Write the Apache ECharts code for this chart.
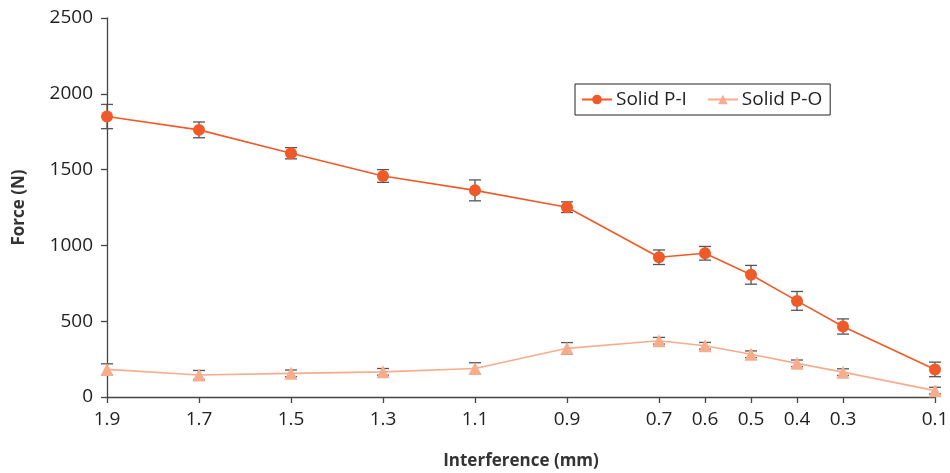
<!DOCTYPE html>
<html>
<head>
<meta charset="utf-8">
<script src="https://cdn.jsdelivr.net/npm/echarts@6/dist/echarts.min.js"></script>
<style>html,body{margin:0;padding:0;background:#fff}#c{width:950px;height:473px}</style>
</head>
<body>
<div id="c"></div>
<script>
var interference = [1.9, 1.7, 1.5, 1.3, 1.1, 0.9, 0.7, 0.6, 0.5, 0.4, 0.3, 0.1];
var solidPI = [1850, 1762, 1608, 1458, 1363, 1252, 922, 948, 806, 634, 465, 182];
var solidPIErr = [80, 52, 37, 42, 69, 35, 48, 45, 62, 62, 50, 48];
var solidPO = [182, 145, 156, 166, 188, 321, 371, 338, 282, 222, 164, 42];
var solidPOErr = [37, 30, 22, 22, 38, 38, 22, 22, 22, 22, 22, 22];
var yTicks = [0, 500, 1000, 1500, 2000, 2500];

var FONT = '"Open Sans", "Noto Sans", sans-serif';

function pairs(xs, ys) { return xs.map(function (x, i) { return [x, ys[i]]; }); }
function errData(xs, ys, es) { return xs.map(function (x, i) { return [x, ys[i] - es[i], ys[i] + es[i]]; }); }

function errRender(params, api) {
  var x = api.value(0);
  var lo = api.coord([x, api.value(1)]);
  var hi = api.coord([x, api.value(2)]);
  var w = 6;
  var st = { stroke: '#555555', lineWidth: 1.3 };
  return {
    type: 'group',
    children: [
      { type: 'line', shape: { x1: lo[0], y1: lo[1], x2: hi[0], y2: hi[1] }, style: st },
      { type: 'line', shape: { x1: lo[0] - w, y1: lo[1], x2: lo[0] + w, y2: lo[1] }, style: st },
      { type: 'line', shape: { x1: hi[0] - w, y1: hi[1], x2: hi[0] + w, y2: hi[1] }, style: st }
    ]
  };
}

var chart = echarts.init(document.getElementById('c'), null, { renderer: 'canvas' });
chart.setOption({
  animation: false,
  backgroundColor: '#fff',
  textStyle: { fontFamily: FONT },
  grid: { left: 107, right: 15, top: 18, bottom: 76, containLabel: false, outerBoundsMode: 'none' },
  legend: {
    data: ['Solid P-I', 'Solid P-O'],
    left: 575, top: 84,
    padding: [6, 8, 6, 6],
    itemGap: 20,
    itemWidth: 30, itemHeight: 12,
    borderColor: '#222', borderWidth: 1, borderRadius: 0,
    textStyle: { fontFamily: FONT, fontSize: 19, color: '#222', padding: [0, 0, 0, -1] }
  },
  xAxis: {
    type: 'value',
    inverse: true,
    min: 0.1, max: 1.9,
    name: 'Interference (mm)',
    nameLocation: 'middle',
    nameGap: 56,
    nameTextStyle: { fontFamily: FONT, fontSize: 17, fontWeight: 'bold', color: '#333' },
    axisLine: { show: true, onZero: false, lineStyle: { color: '#444', width: 1.3 } },
    axisTick: { show: true, length: 6, lineStyle: { color: '#444', width: 1.3 }, customValues: interference },
    axisLabel: {
      customValues: interference,
      fontFamily: FONT, fontSize: 19, color: '#222', margin: 13,
      formatter: function (v) { return Number(v).toFixed(1); }
    },
    splitLine: { show: false }
  },
  yAxis: {
    type: 'value',
    min: 0, max: 2500, interval: 500,
    name: 'Force (N)',
    nameLocation: 'middle',
    nameGap: 79,
    nameRotate: 90,
    nameTextStyle: { fontFamily: FONT, fontSize: 17, fontWeight: 'bold', color: '#333' },
    axisLine: { show: true, lineStyle: { color: '#444', width: 1.3 } },
    axisTick: { show: true, length: 6, lineStyle: { color: '#444', width: 1.3 } },
    axisLabel: {
      customValues: yTicks,
      fontFamily: FONT, fontSize: 19, color: '#222', margin: 14,
      formatter: function (v) { return String(v); }
    },
    splitLine: { show: false }
  },
  series: [
    {
      type: 'custom', name: 'errPI', renderItem: errRender,
      data: errData(interference, solidPI, solidPIErr), z: 1, silent: true,
      encode: { x: 0, y: [1, 2] }
    },
    {
      type: 'custom', name: 'errPO', renderItem: errRender,
      data: errData(interference, solidPO, solidPOErr), z: 1, silent: true,
      encode: { x: 0, y: [1, 2] }
    },
    {
      name: 'Solid P-I', type: 'line', data: pairs(interference, solidPI), z: 3,
      symbol: 'circle', symbolSize: 12,
      lineStyle: { color: '#F05A28', width: 1.6 },
      itemStyle: { color: '#F05A28' }
    },
    {
      name: 'Solid P-O', type: 'line', data: pairs(interference, solidPO), z: 3,
      symbol: 'triangle', symbolSize: 13,
      lineStyle: { color: '#F7AD8C', width: 1.6 },
      itemStyle: { color: '#F7AD8C' }
    }
  ]
});
</script>
</body>
</html>
